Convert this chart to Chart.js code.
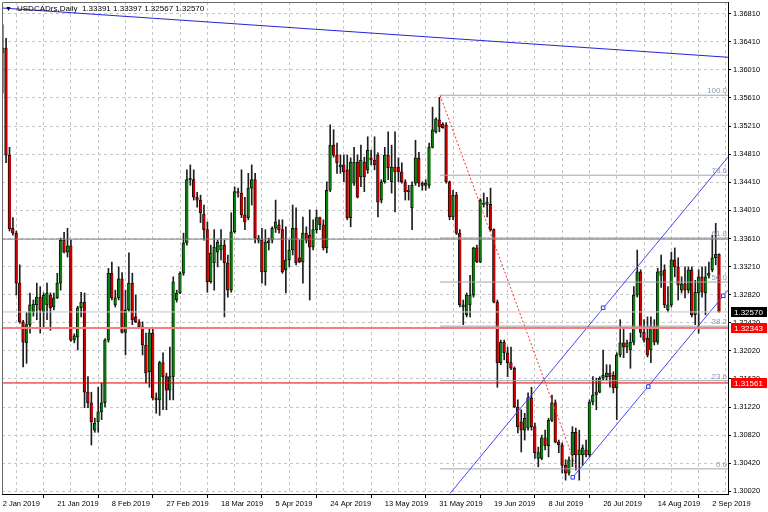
<!DOCTYPE html>
<html>
<head>
<meta charset="utf-8">
<script src="https://cdn.jsdelivr.net/npm/chart.js@4.4.1/dist/chart.umd.min.js"></script>
<style>
  html, body { margin: 0; padding: 0; background: #fff; }
  #wrap { width: 768px; height: 512px; }
</style>
</head>
<body>
<div id="wrap"><canvas id="chart" width="768" height="512"></canvas></div>
<script>
// one label every 16 bars
const dates = ['2 Jan 2019', '21 Jan 2019', '8 Feb 2019', '27 Feb 2019', '18 Mar 2019', '5 Apr 2019', '24 Apr 2019',
    '13 May 2019', '31 May 2019', '19 Jun 2019', '8 Jul 2019', '26 Jul 2019', '14 Aug 2019', '2 Sep 2019'];

const opens = [
    1.3626, 1.3632, 1.3480, 1.3376, 1.3369, 1.3298, 1.3243, 1.3213, 1.3239, 1.3257, 1.3267, 1.3278, 1.3257, 1.3267, 1.3281, 1.3264,
    1.3277, 1.3298, 1.3359, 1.3342, 1.3351, 1.3217, 1.3221, 1.3263, 1.3271, 1.3143, 1.3128, 1.3089, 1.3101, 1.3115, 1.3128, 1.3217,
    1.3312, 1.3267, 1.3277, 1.3304, 1.3228, 1.3260, 1.3298, 1.3250, 1.3243, 1.3236, 1.3210, 1.3172, 1.3227, 1.3135, 1.3132, 1.3185,
    1.3165, 1.3146, 1.3165, 1.3274, 1.3284, 1.3312, 1.3355, 1.3445, 1.3445, 1.3420, 1.3416, 1.3396, 1.3374, 1.3300, 1.3327, 1.3342,
    1.3345, 1.3352, 1.3327, 1.3288, 1.3371, 1.3428, 1.3426, 1.3395, 1.3391, 1.3433, 1.3445, 1.3362, 1.3359, 1.3314, 1.3355, 1.3359,
    1.3376, 1.3381, 1.3374, 1.3317, 1.3331, 1.3345, 1.3376, 1.3334, 1.3328, 1.3369, 1.3366, 1.3349, 1.3374, 1.3391, 1.3381, 1.3348,
    1.3430, 1.3494, 1.3480, 1.3463, 1.3466, 1.3459, 1.3391, 1.3440, 1.3470, 1.3449, 1.3470, 1.3459, 1.3476, 1.3473, 1.3480, 1.3416,
    1.3442, 1.3480, 1.3442, 1.3463, 1.3463, 1.3456, 1.3442, 1.3428, 1.3405, 1.3440, 1.3476, 1.3440, 1.3437, 1.3437, 1.3491, 1.3513,
    1.3530, 1.3524, 1.3523, 1.3442, 1.3392, 1.3423, 1.3369, 1.3267, 1.3253, 1.3267, 1.3281, 1.3348, 1.3328, 1.3410, 1.3410, 1.3410,
    1.3374, 1.3271, 1.3185, 1.3214, 1.3199, 1.3185, 1.3177, 1.3122, 1.3101, 1.3089, 1.3092, 1.3135, 1.3094, 1.3049, 1.3049, 1.3078,
    1.3067, 1.3103, 1.3128, 1.3072, 1.3068, 1.3039, 1.3028, 1.3054, 1.3086, 1.3054, 1.3054, 1.3061, 1.3054, 1.3129, 1.3139, 1.3143,
    1.3163, 1.3165, 1.3170, 1.3167, 1.3149, 1.3196, 1.3213, 1.3207, 1.3203, 1.3214, 1.3281, 1.3314, 1.3228, 1.3220, 1.3203, 1.3236,
    1.3214, 1.3309, 1.3317, 1.3260, 1.3267, 1.3331, 1.3321, 1.3288, 1.3297, 1.3288, 1.3317, 1.3253, 1.3284, 1.3307, 1.3284, 1.3309,
    1.3317, 1.3334, 1.33391
];
const highs = [
    1.3665, 1.3646, 1.3491, 1.3391, 1.3372, 1.3324, 1.3245, 1.3256, 1.3284, 1.3274, 1.3298, 1.3293, 1.3284, 1.3298, 1.3284, 1.3284,
    1.3312, 1.3362, 1.3370, 1.3376, 1.3359, 1.3226, 1.3265, 1.3285, 1.3284, 1.3165, 1.3143, 1.3106, 1.3150, 1.3156, 1.3219, 1.3319,
    1.3328, 1.3288, 1.3321, 1.3313, 1.3288, 1.3341, 1.3312, 1.3281, 1.3246, 1.3243, 1.3227, 1.3234, 1.3234, 1.3142, 1.3187, 1.3199,
    1.3170, 1.3207, 1.3307, 1.3288, 1.3314, 1.3369, 1.3459, 1.3466, 1.3459, 1.3427, 1.3423, 1.3409, 1.3385, 1.3352, 1.3374, 1.3359,
    1.3374, 1.3359, 1.3338, 1.3398, 1.3435, 1.3433, 1.3459, 1.3420, 1.3454, 1.3466, 1.3454, 1.3366, 1.3376, 1.3374, 1.3362, 1.3378,
    1.3416, 1.3388, 1.3388, 1.3378, 1.3359, 1.3409, 1.3405, 1.3359, 1.3392, 1.3378, 1.3402, 1.3388, 1.3402, 1.3392, 1.3388, 1.3442,
    1.3523, 1.3516, 1.3497, 1.3480, 1.3480, 1.3480, 1.3476, 1.3491, 1.3480, 1.3494, 1.3477, 1.3506, 1.3487, 1.3506, 1.3483, 1.3445,
    1.3491, 1.3513, 1.3494, 1.3513, 1.3476, 1.3469, 1.3445, 1.3437, 1.3442, 1.3501, 1.3484, 1.3442, 1.3445, 1.3497, 1.3548, 1.3533,
    1.3562, 1.3526, 1.3526, 1.3443, 1.3430, 1.3427, 1.3374, 1.3274, 1.3284, 1.3309, 1.3349, 1.3352, 1.3418, 1.3426, 1.3420, 1.3433,
    1.3375, 1.3274, 1.3217, 1.3217, 1.3207, 1.3207, 1.3179, 1.3132, 1.3118, 1.3113, 1.3142, 1.3150, 1.3099, 1.3065, 1.3082, 1.3089,
    1.3106, 1.3139, 1.3132, 1.3075, 1.3071, 1.3047, 1.3051, 1.3094, 1.3092, 1.3089, 1.3068, 1.3075, 1.3132, 1.3165, 1.3163, 1.3165,
    1.3203, 1.3182, 1.3182, 1.3172, 1.3199, 1.3246, 1.3234, 1.3217, 1.3227, 1.3293, 1.3345, 1.3317, 1.3246, 1.3250, 1.3250, 1.3246,
    1.3319, 1.3338, 1.3324, 1.3293, 1.3342, 1.3348, 1.3334, 1.3307, 1.3321, 1.3321, 1.3321, 1.3302, 1.3317, 1.3321, 1.3321, 1.3328,
    1.3366, 1.3383, 1.33397
];
const lows = [
    1.3568, 1.3469, 1.3372, 1.3366, 1.3281, 1.3241, 1.3179, 1.3184, 1.3227, 1.3251, 1.3246, 1.3227, 1.3236, 1.3246, 1.3231, 1.3260,
    1.3276, 1.3288, 1.3341, 1.3335, 1.3215, 1.3213, 1.3203, 1.3250, 1.3121, 1.3121, 1.3068, 1.3086, 1.3086, 1.3104, 1.3122, 1.3214,
    1.3274, 1.3264, 1.3274, 1.3227, 1.3196, 1.3258, 1.3239, 1.3242, 1.3234, 1.3196, 1.3156, 1.3150, 1.3132, 1.3113, 1.3110, 1.3118,
    1.3118, 1.3132, 1.3132, 1.3271, 1.3283, 1.3309, 1.3352, 1.3437, 1.3416, 1.3406, 1.3384, 1.3359, 1.3285, 1.3298, 1.3288, 1.3321,
    1.3331, 1.3250, 1.3278, 1.3285, 1.3369, 1.3420, 1.3391, 1.3374, 1.3388, 1.3409, 1.3355, 1.3355, 1.3298, 1.3295, 1.3345, 1.3355,
    1.3370, 1.3369, 1.3312, 1.3284, 1.3321, 1.3338, 1.3324, 1.3327, 1.3298, 1.3355, 1.3274, 1.3345, 1.3369, 1.3374, 1.3345, 1.3341,
    1.3428, 1.3477, 1.3454, 1.3454, 1.3442, 1.3388, 1.3378, 1.3437, 1.3419, 1.3435, 1.3428, 1.3454, 1.3466, 1.3459, 1.3392, 1.3412,
    1.3440, 1.3445, 1.3426, 1.3399, 1.3442, 1.3440, 1.3416, 1.3416, 1.3374, 1.3437, 1.3435, 1.3430, 1.3430, 1.3433, 1.3490, 1.3511,
    1.3513, 1.3518, 1.3440, 1.3388, 1.3388, 1.3367, 1.3264, 1.3239, 1.3250, 1.3250, 1.3278, 1.3327, 1.3327, 1.3406, 1.3392, 1.3372,
    1.3270, 1.3150, 1.3182, 1.3189, 1.3165, 1.3175, 1.3121, 1.3085, 1.3058, 1.3075, 1.3089, 1.3089, 1.3049, 1.3037, 1.3047, 1.3061,
    1.3051, 1.3101, 1.3071, 1.3057, 1.3028, 1.3018, 1.3025, 1.3037, 1.3032, 1.3018, 1.3039, 1.3051, 1.3051, 1.3125, 1.3118, 1.3142,
    1.3160, 1.3160, 1.3150, 1.3142, 1.3104, 1.3193, 1.3192, 1.3199, 1.3177, 1.3210, 1.3278, 1.3221, 1.3214, 1.3193, 1.3185, 1.3210,
    1.3211, 1.3292, 1.3263, 1.3257, 1.3264, 1.3307, 1.3274, 1.3284, 1.3277, 1.3284, 1.3250, 1.3239, 1.3227, 1.3278, 1.3253, 1.3305,
    1.3314, 1.3324, 1.32567
];
const closes = [
    1.3632, 1.3480, 1.3375, 1.3369, 1.3298, 1.3243, 1.3214, 1.3239, 1.3267, 1.3268, 1.3278, 1.3260, 1.3281, 1.3284, 1.3263, 1.3277,
    1.3298, 1.3359, 1.3342, 1.3351, 1.3217, 1.3223, 1.3263, 1.3271, 1.3143, 1.3128, 1.3101, 1.3099, 1.3115, 1.3128, 1.3217, 1.3312,
    1.3277, 1.3277, 1.3304, 1.3228, 1.3260, 1.3298, 1.3246, 1.3243, 1.3236, 1.3210, 1.3170, 1.3227, 1.3135, 1.3132, 1.3185, 1.3165,
    1.3146, 1.3165, 1.3300, 1.3284, 1.3312, 1.3355, 1.3445, 1.3447, 1.3420, 1.3416, 1.3398, 1.3374, 1.3300, 1.3341, 1.3349, 1.3356,
    1.3352, 1.3327, 1.3288, 1.3371, 1.3428, 1.3426, 1.3395, 1.3385, 1.3433, 1.3445, 1.3362, 1.3359, 1.3314, 1.3356, 1.3358, 1.3376,
    1.3385, 1.3374, 1.3314, 1.3331, 1.3345, 1.3376, 1.3327, 1.3328, 1.3369, 1.3359, 1.3349, 1.3374, 1.3391, 1.3381, 1.3348, 1.3430,
    1.3494, 1.3480, 1.3469, 1.3466, 1.3456, 1.3391, 1.3470, 1.3470, 1.3420, 1.3473, 1.3449, 1.3487, 1.3473, 1.3466, 1.3413, 1.3442,
    1.3480, 1.3462, 1.3463, 1.3456, 1.3456, 1.3442, 1.3428, 1.3430, 1.3437, 1.3476, 1.3440, 1.3437, 1.3440, 1.3491, 1.3516, 1.3531,
    1.3520, 1.3519, 1.3442, 1.3392, 1.3423, 1.3369, 1.3267, 1.3264, 1.3281, 1.3281, 1.3348, 1.3328, 1.3416, 1.3411, 1.3413, 1.3374,
    1.3271, 1.3185, 1.3214, 1.3199, 1.3185, 1.3177, 1.3122, 1.3094, 1.3089, 1.3106, 1.3135, 1.3094, 1.3057, 1.3057, 1.3078, 1.3067,
    1.3103, 1.3128, 1.3072, 1.3068, 1.3039, 1.3028, 1.3047, 1.3086, 1.3054, 1.3061, 1.3064, 1.3054, 1.3129, 1.3139, 1.3143, 1.3163,
    1.3167, 1.3170, 1.3165, 1.3149, 1.3196, 1.3213, 1.3207, 1.3213, 1.3214, 1.3281, 1.3314, 1.3228, 1.3217, 1.3196, 1.3236, 1.3214,
    1.3314, 1.3315, 1.3267, 1.3267, 1.3331, 1.3321, 1.3295, 1.3297, 1.3288, 1.3317, 1.3253, 1.3285, 1.3307, 1.3285, 1.3307, 1.3312,
    1.3334, 1.3339, 1.32570
];

// right axis labels, bottom to top (evenly spaced)
const priceLabels = ['1.30020', '1.30420', '1.30820', '1.31220', '1.31620', '1.32020', '1.32420', '1.32820', '1.33210',
    '1.33610', '1.34010', '1.34410', '1.34810', '1.35210', '1.35610', '1.36010', '1.36410', '1.36810'];

// fibonacci retracement drawn from the swing high
const fibRatios = [0, 23.6, 38.2, 50, 61.8, 78.6, 100];
const fibLow = 1.3034;
const fibHigh = 1.3565;
const fibFromBar = 128.2;
const fibToBar = 168.3;

// trend lines and channel (bar index, price)
const trendLine = [{ x: -0.2, y: 1.3689 }, { x: 212.6, y: 1.3619 }];
const channelUpper = [{ x: 131.1, y: 1.2999 }, { x: 212.6, y: 1.3477 }];
const channelLower = [{ x: 167.1, y: 1.3022 }, { x: 212.6, y: 1.3288 }];
const channelPoints = [{ x: 167.1, y: 1.3022 }, { x: 176, y: 1.3263 }, { x: 189.25, y: 1.3151 }, { x: 211.2, y: 1.3280 }];

const greyLevel = 1.33605;
const bidPrice = 1.32570;
const redLevels = [1.32343, 1.31561];

const X_MIN = -0.2, X_MAX = 212.6;
const Y_MIN = 1.29983, Y_MAX = 1.36975;
const BULL = '#0c7a0c', BEAR = '#c80000';
const FONT = 'Liberation Sans, Arial, sans-serif';

function hline(price, from, to) {
    return [{ x: from, y: price }, { x: to, y: price }];
}

function lineSet(data, color, width, dash) {
    return {
        type: 'line', data: data, borderColor: color, borderWidth: width || 1,
        borderDash: dash || [], pointRadius: 0, tension: 0, order: 1
    };
}

const bars = opens.map((_, i) => i);
const wickData = bars.map(i => ({ x: i, y: [lows[i], highs[i]] }));
const bodyData = bars.map(i => ({ x: i, y: [Math.min(opens[i], closes[i]), Math.max(opens[i], closes[i])] }));
const bodyColors = bars.map(i => closes[i] >= opens[i] ? BULL : BEAR);

const datasets = [
    lineSet(hline(greyLevel, X_MIN, X_MAX), '#7c7c7c'),
    lineSet(hline(bidPrice, X_MIN, X_MAX), '#c4c4c4'),
    lineSet(hline(redLevels[0], X_MIN, X_MAX), '#ff7a7a', 2),
    lineSet(hline(redLevels[1], X_MIN, X_MAX), '#e00000'),
    lineSet(trendLine, '#2424d8', 1.2),
    lineSet(channelUpper, '#4646f0'),
    lineSet(channelLower, '#4646f0'),
    lineSet([{ x: fibFromBar, y: fibHigh }, { x: fibToBar, y: fibLow }], '#ff3030', 1, [2, 2])
];
fibRatios.forEach(r => {
    datasets.push(lineSet(hline(fibLow + r / 100 * (fibHigh - fibLow), fibFromBar, X_MAX), '#9ea6b0'));
});
datasets.push({
    type: 'line', data: channelPoints, showLine: false, pointStyle: 'rect', pointRadius: 2.5,
    pointBackgroundColor: '#ffffff', pointBorderColor: '#3030f0', pointBorderWidth: 1, order: 0
});
datasets.push({
    type: 'bar', data: bodyData, backgroundColor: bodyColors, barThickness: 3, minBarLength: 1,
    grouped: false, borderColor: '#111111', borderSkipped: false,
    borderWidth: { left: 1, right: 0, top: 1, bottom: 1 }, order: 2
});
datasets.push({
    type: 'bar', data: wickData, backgroundColor: '#1e1e1e', barThickness: 1,
    grouped: false, borderWidth: 0, order: 3
});

const overlayPlugin = {
    id: 'overlay',
    afterDatasetsDraw(chart) {
        const ctx = chart.ctx, y = chart.scales.y, area = chart.chartArea;
        ctx.save();
        ctx.font = '8px ' + FONT;
        ctx.fillStyle = '#8a9ab2';
        ctx.textAlign = 'right';
        ctx.textBaseline = 'bottom';
        fibRatios.forEach(r => {
            const py = y.getPixelForValue(fibLow + r / 100 * (fibHigh - fibLow));
            ctx.fillText(r.toFixed(1), area.right - 1, py);
        });
        ctx.restore();
    },
    afterDraw(chart) {
        const ctx = chart.ctx, y = chart.scales.y, area = chart.chartArea;
        ctx.save();
        // frame on the left and top
        ctx.strokeStyle = '#6a6a6a';
        ctx.lineWidth = 1;
        ctx.beginPath();
        ctx.moveTo(area.left + 0.5, area.bottom);
        ctx.lineTo(area.left + 0.5, area.top + 0.5);
        ctx.lineTo(area.right, area.top + 0.5);
        ctx.stroke();

        // price boxes on the right axis
        const boxes = [
            { price: bidPrice, bg: '#000000' },
            { price: redLevels[0], bg: '#ff0000' },
            { price: redLevels[1], bg: '#ff0000' }
        ];
        ctx.font = '8px ' + FONT;
        ctx.textAlign = 'left';
        ctx.textBaseline = 'middle';
        boxes.forEach(b => {
            const py = Math.round(y.getPixelForValue(b.price));
            ctx.fillStyle = b.bg;
            ctx.fillRect(area.right + 3, py - 5, 36, 10);
            ctx.fillStyle = '#ffffff';
            ctx.fillText(b.price.toFixed(5), area.right + 6, py + 0.5);
        });

        // title
        const last = opens.length - 1;
        ctx.fillStyle = '#000000';
        ctx.font = '7px ' + FONT;
        ctx.fillText('\u25BC', area.left + 3, 9);
        ctx.font = '8px ' + FONT;
        ctx.fillText('USDCADrs,Daily  ' + [opens[last], highs[last], lows[last], closes[last]].map(v => v.toFixed(5)).join(' '),
            area.left + 15, 9);
        ctx.restore();
    }
};

new Chart(document.getElementById('chart'), {
    type: 'bar',
    data: { datasets: datasets },
    options: {
        responsive: false,
        animation: false,
        events: [],
        devicePixelRatio: 1,
        layout: { autoPadding: false, padding: { left: 2, top: 2, right: 0, bottom: 0 } },
        plugins: { legend: { display: false }, tooltip: { enabled: false } },
        scales: {
            x: {
                type: 'linear',
                min: X_MIN,
                max: X_MAX,
                offset: false,
                afterBuildTicks: scale => {
                    const t = [];
                    for (let v = 0; v <= 208; v += 8) t.push({ value: v });
                    scale.ticks = t;
                },
                afterFit: scale => {
                    scale.height = 18;
                    scale.paddingLeft = 0;
                    scale.paddingRight = 0;
                },
                grid: {
                    color: '#c6c6c6',
                    tickLength: 4,
                    tickBorderDash: [],
                    tickColor: c => (c.tick && c.tick.value % 16 === 0) ? '#000000' : 'rgba(0,0,0,0)'
                },
                border: { display: true, color: '#000000', width: 1, dash: [3, 3] },
                ticks: {
                    autoSkip: false,
                    maxRotation: 0,
                    align: 'start',
                    padding: 1,
                    color: '#000000',
                    font: { family: FONT, size: 7.5 },
                    callback: v => v % 16 === 0 ? dates[v / 16] : ''
                }
            },
            y: {
                type: 'linear',
                position: 'right',
                min: Y_MIN,
                max: Y_MAX,
                afterBuildTicks: scale => {
                    const lo = Number(priceLabels[0]);
                    const step = (Number(priceLabels[priceLabels.length - 1]) - lo) / (priceLabels.length - 1);
                    scale.ticks = priceLabels.map((_, k) => ({ value: lo + k * step }));
                },
                afterFit: scale => {
                    scale.width = 40;
                    scale.paddingTop = 0;
                    scale.paddingBottom = 0;
                },
                grid: { color: '#c6c6c6', tickLength: 3, tickBorderDash: [], tickColor: '#000000' },
                border: { display: true, color: '#000000', width: 1, dash: [3, 3] },
                ticks: {
                    crossAlign: 'near',
                    padding: 2,
                    color: '#000000',
                    font: { family: FONT, size: 7.5 },
                    callback: (v, i) => priceLabels[i]
                }
            }
        }
    },
    plugins: [overlayPlugin]
});
</script>
</body>
</html>
